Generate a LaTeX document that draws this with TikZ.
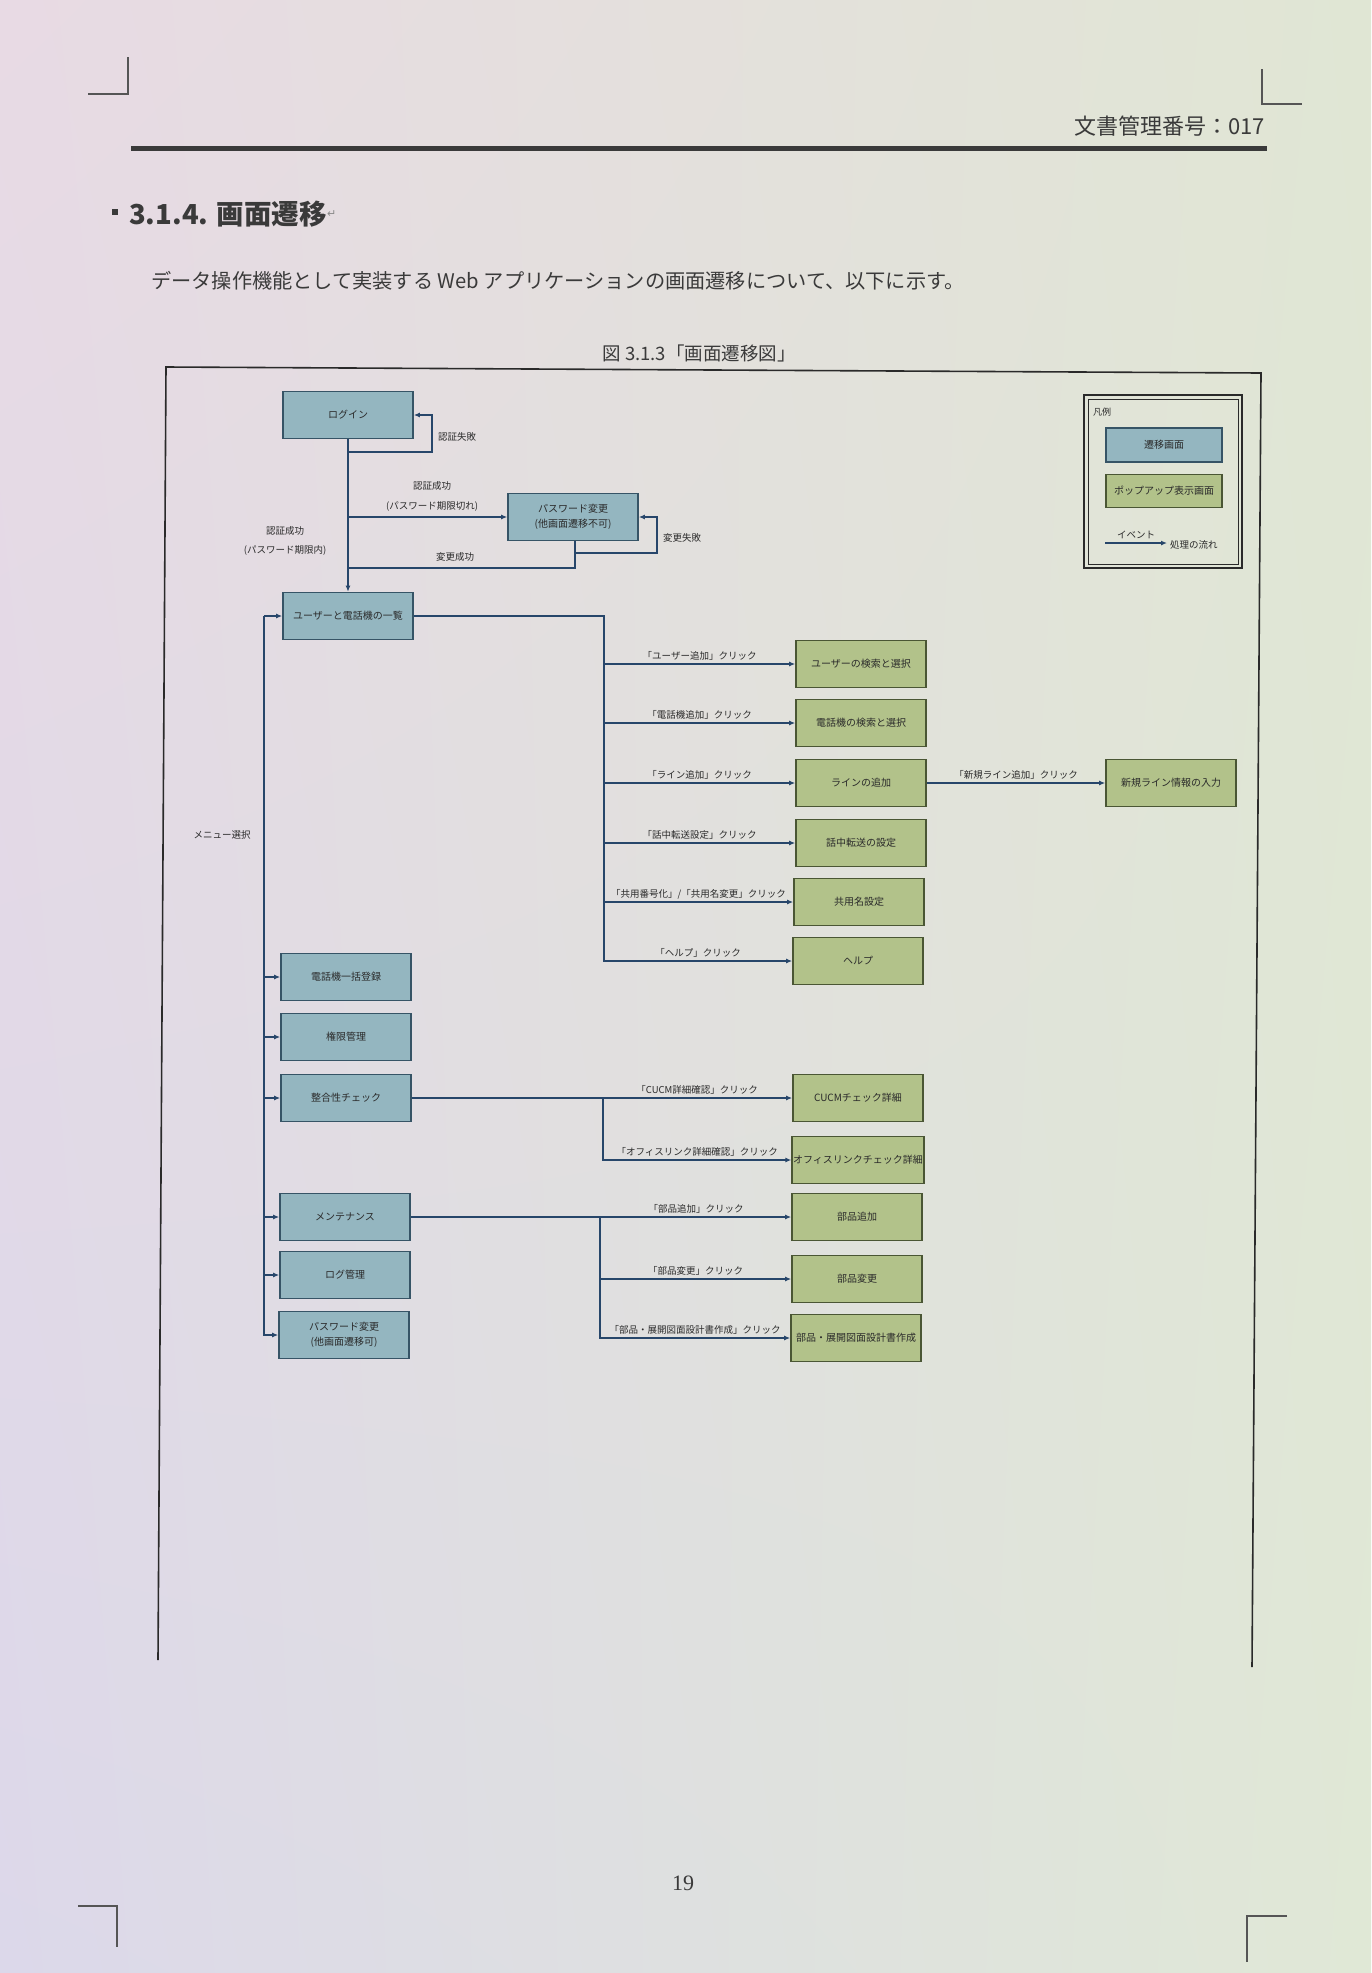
\documentclass[tikz,border=0pt]{standalone}
\usepackage{fontspec}
\setmainfont{Noto Sans CJK JP}
\newfontfamily\serifnum{Liberation Serif}
\newfontfamily\symfont{DejaVu Sans}
\usetikzlibrary{arrows.meta,shadings}
\definecolor{bgA}{HTML}{E8DAE4}
\definecolor{bgB}{HTML}{E0E6D4}
\definecolor{bgC}{HTML}{DCD8EA}
\definecolor{bgD}{HTML}{E0E8D6}
\definecolor{scrfill}{HTML}{94B6C0}
\definecolor{scrline}{HTML}{365466}
\definecolor{popfill}{HTML}{B2C28A}
\definecolor{popline}{HTML}{4A5634}
\definecolor{lncol}{HTML}{27466A}
\definecolor{txt}{HTML}{2A2A2A}
\definecolor{pagetxt}{HTML}{3A3A3A}
\definecolor{marks}{HTML}{555555}
\definecolor{fmark}{HTML}{8A8A8A}
\begin{document}
\begin{tikzpicture}[x=1pt,y=-1pt,
  scr/.style={draw=scrline, fill=scrfill, line width=1.6, minimum width=130, minimum height=47,
    inner sep=1, align=center, text=txt, font=\fontsize{10}{15}\selectfont},
  pop/.style={scr, draw=popline, fill=popfill},
  ln/.style={draw=lncol, line width=2.2},
  arr/.style={ln, -{Latex[length=6,width=5]}},
  lbl/.style={inner sep=1, text=txt, font=\fontsize{9.5}{11}\selectfont},
  pagetext/.style={inner sep=0, text=pagetxt},
  crop/.style={draw=marks, line width=1.5},
  frame/.style={draw=txt, line width=1.6}]
\useasboundingbox (0,0) rectangle (1371,1973);
\shade[upper left=bgA, upper right=bgB, lower left=bgC, lower right=bgD] (0,0) rectangle (1371,1973);

% crop marks
\draw[crop] (128,57) -- (128,94) -- (88,94);
\draw[crop] (1262,69) -- (1262,104) -- (1302,104);
\draw[crop] (78,1906) -- (117,1906) -- (117,1947);
\draw[crop] (1287,1916) -- (1247,1916) -- (1247,1962);

% header
\node[pagetext, anchor=east, font=\fontsize{22}{22}\selectfont] (hdr) at (1265,126) {文書管理番号：017};
\draw[line width=5, draw=pagetxt] (131,148) -- (1267,148);
\fill[pagetxt] (112,209) rectangle (118,215);
\node[pagetext, anchor=west, font=\bfseries\fontsize{27.5}{28}\selectfont] (head) at (129,214) {3.1.4. 画面遷移};
\node[pagetext, anchor=west, text=fmark, font=\symfont\fontsize{11}{11}\selectfont] (headmark) at (head.east) {↵};
\node[pagetext, anchor=west, font=\fontsize{20.2}{21}\selectfont] (para) at (151,281) {データ操作機能として実装する Web アプリケーションの画面遷移について、以下に示す。};
\node[pagetext, font=\fontsize{18.5}{19}\selectfont] (cap) at (699,353) {図 3.1.3「画面遷移図」};
\node[pagetext, font=\serifnum\fontsize{22}{22}\selectfont] (pg) at (683,1883) {19};

% figure frame
\draw[frame] (158,1660) -- (166,367) -- (1261,373) -- (1252,1667);

% legend
\draw[draw=txt, line width=2.4] (1084,395) rectangle (1242,568);
\draw[draw=txt, line width=0.7] (1088,399) rectangle (1238,564);
\node[lbl, anchor=west, font=\fontsize{9}{10}\selectfont] (legT) at (1092,412) {凡例};
\node[scr, minimum width=116, minimum height=34] (legS) at (1164,445) {遷移画面};
\node[pop, minimum width=116, minimum height=33] (legP) at (1164,491) {ポップアップ表示画面};
\coordinate (legA) at (1105,543);
\coordinate (legB) at (1167,543);
\draw[arr] (legA) -- node[lbl, above=2] (legE) {イベント} (legB);
\node[lbl, anchor=west] (legF) at (1169,545) {処理の流れ};

% screens
\node[scr] (login) at (348,415) {ログイン};
\node[scr] (pw) at (573,517) {パスワード変更\\(他画面遷移不可)};
\node[scr] (list) at (348,616) {ユーザーと電話機の一覧};
\node[scr] (bulk) at (346,977) {電話機一括登録};
\node[scr] (auth) at (346,1037) {権限管理};
\node[scr] (check) at (346,1098) {整合性チェック};
\node[scr] (maint) at (345,1217) {メンテナンス};
\node[scr] (log) at (345,1275) {ログ管理};
\node[scr] (pw2) at (344,1335) {パスワード変更\\(他画面遷移可)};

% popups
\node[pop] (usersel) at (861,664) {ユーザーの検索と選択};
\node[pop] (telsel) at (861,723) {電話機の検索と選択};
\node[pop] (lineadd) at (861,783) {ラインの追加};
\node[pop] (newline) at (1171,783) {新規ライン情報の入力};
\node[pop] (fwd) at (861,843) {話中転送の設定};
\node[pop] (share) at (859,902) {共用名設定};
\node[pop] (help) at (858,961) {ヘルプ};
\node[pop] (cucm) at (858,1098) {CUCMチェック詳細};
\node[pop] (office) at (858,1160) {オフィスリンクチェック詳細};
\node[pop] (partadd) at (857,1217) {部品追加};
\node[pop] (partchg) at (857,1279) {部品変更};
\node[pop] (partdraw) at (856,1338) {部品・展開図面設計書作成};

% login area
\coordinate (lp) at (432,452);
\coordinate (ps) at (575,568);
\coordinate (pl) at (657,553);
\draw[arr] (login.south) -- (list.north);
\draw[arr] (login.south |- lp) -- (lp) |- (login.east);
\node[lbl, anchor=west] (l1) at (437,437) {認証失敗};
\draw[arr] (login.south |- pw.west) -- (pw.west);
\node[lbl, align=center, font=\fontsize{9.5}{20}\selectfont] (l2) at (432,496) {認証成功\\(パスワード期限切れ)};
\draw[ln] (pw.south -| ps) -- (ps) -- (ps -| login.south);
\draw[arr] (pl -| ps) -- (pl) |- (pw.east);
\node[lbl] (l3) at (455,557) {変更成功};
\node[lbl, anchor=west] (l4) at (662,538) {変更失敗};
\node[lbl, align=center, font=\fontsize{9.5}{19}\selectfont] (l5) at (285,541) {認証成功\\(パスワード期限内)};

% right trunk from list
\coordinate (t1) at (604,0);
\draw[arr] (list.east) -| (t1 |- help.west) -- node[lbl, above=2] (e6) {「ヘルプ」クリック} (help.west);
\draw[arr] (t1 |- usersel.west) -- node[lbl, above=2] (e1) {「ユーザー追加」クリック} (usersel.west);
\draw[arr] (t1 |- telsel.west) -- node[lbl, above=2] (e2) {「電話機追加」クリック} (telsel.west);
\draw[arr] (t1 |- lineadd.west) -- node[lbl, above=2] (e3) {「ライン追加」クリック} (lineadd.west);
\draw[arr] (t1 |- fwd.west) -- node[lbl, above=2] (e4) {「話中転送設定」クリック} (fwd.west);
\draw[arr] (t1 |- share.west) -- node[lbl, above=1] (e5) {「共用番号化」/「共用名変更」クリック} (share.west);
\draw[arr] (lineadd.east) -- node[lbl, above=2] (e8) {「新規ライン追加」クリック} (newline.west);

% menu line
\coordinate (m) at (264,0);
\draw[arr] (m |- list.west) -- (m |- pw2.west) -- (pw2.west);
\foreach \n in {list,bulk,auth,check,maint,log}
  \draw[arr] (m |- \n.west) -- (\n.west);
\node[lbl] (menu) at (222,835) {メニュー選択};

% integrity check
\coordinate (t2) at (603,0);
\draw[arr] (check.east) -- node[lbl, above=2, pos=0.75] (e9) {「CUCM詳細確認」クリック} (cucm.west);
\draw[arr] (t2 |- check.east) |- node[lbl, above=2, pos=0.75] (e10) {「オフィスリンク詳細確認」クリック} (office.west);

% maintenance
\coordinate (t3) at (600,0);
\draw[arr] (maint.east) -- node[lbl, above=2, pos=0.75] (e11) {「部品追加」クリック} (partadd.west);
\draw[arr] (t3 |- maint.east) |- node[lbl, above=2, pos=0.75] (e12) {「部品変更」クリック} (partchg.west);
\draw[arr] (t3 |- maint.east) |- node[lbl, above=2, pos=0.75] (e13) {「部品・展開図面設計書作成」クリック} (partdraw.west);
\end{tikzpicture}
\end{document}
